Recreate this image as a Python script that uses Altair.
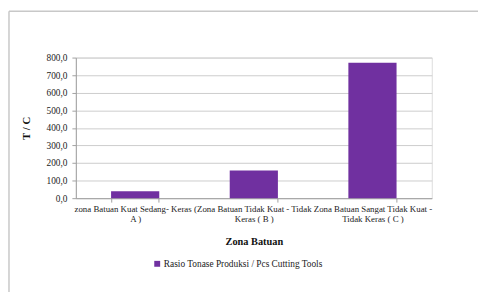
import altair as alt
import pandas as pd

categories = ["A", "B", "C"]
label_lines = [
    ["zona Batuan Kuat Sedang- Keras (", "A )"],
    ["Zona Batuan Tidak Kuat - Tidak", "Keras ( B )"],
    ["Zona Batuan Sangat Tidak Kuat -", "Tidak Keras ( C )"],
]
values = [40.0, 157.0, 770.0]
series_name = "Rasio Tonase Produksi / Pcs Cutting Tools"
y_ticks = [0, 100, 200, 300, 400, 500, 600, 700, 800]

df = pd.DataFrame({"cat": categories, "val": values, "series": [series_name] * 3})

FONT = "'Liberation Serif', 'Times New Roman', serif"
PURPLE = "#7030A0"

label_map = "{" + ",".join(
    f"'{c}': ['{l[0]}', '{l[1]}']" for c, l in zip(categories, label_lines)
) + "}"

bars = alt.Chart(df).mark_bar(size=49).encode(
    x=alt.X(
        "cat:N",
        sort=categories,
        scale=alt.Scale(paddingInner=0.6, paddingOuter=0.3),
        axis=alt.Axis(
            title="Zona Batuan",
            labelAngle=0,
            labelExpr=label_map + "[datum.value]",
            labelFont=FONT,
            labelFontSize=9,
            labelColor="#222222",
            labelLineHeight=10,
            labelPadding=3,
            labelLimit=200,
            titleFont=FONT,
            titleFontSize=10.5,
            titleFontWeight="bold",
            titleColor="#111111",
            titlePadding=13,
            tickBand="extent",
            tickSize=4,
            tickColor="#a0a0a0",
            domainColor="#a0a0a0",
            grid=False,
        ),
    ),
    y=alt.Y(
        "val:Q",
        scale=alt.Scale(domain=[0, 800], nice=False),
        axis=alt.Axis(
            title="T / C",
            values=y_ticks,
            labelExpr="replace(format(datum.value, '.1f'), '.', ',')",
            labelFont=FONT,
            labelFontSize=9.5,
            labelColor="#222222",
            labelPadding=5,
            titleFont=FONT,
            titleFontSize=11,
            titleFontWeight="bold",
            titleColor="#111111",
            titlePadding=15,
            tickSize=4,
            tickColor="#a0a0a0",
            domainColor="#a0a0a0",
            gridColor="#cccccc",
        ),
    ),
    color=alt.Color(
        "series:N",
        scale=alt.Scale(range=[PURPLE]),
        legend=alt.Legend(
            title=None,
            orient="none",
            legendX=78,
            legendY=205,
            symbolType="square",
            symbolSize=36,
            symbolStrokeWidth=0,
            labelFont=FONT,
            labelFontSize=9.5,
            labelColor="#222222",
            labelOffset=2,
            labelLimit=400,
        ),
    ),
)

frame_df = pd.DataFrame({"k": [0]})
frame_color = "#c8c8c8"
top = alt.Chart(frame_df).mark_rule(color=frame_color, strokeWidth=1.5, clip=False).encode(
    x=alt.value(-68), x2=alt.value(600), y=alt.value(-47)
)
left = alt.Chart(frame_df).mark_rule(color=frame_color, strokeWidth=1.5, clip=False).encode(
    x=alt.value(-68), y=alt.value(-47), y2=alt.value(242)
)
bottom = alt.Chart(frame_df).mark_rule(color=frame_color, strokeWidth=1.5, clip=False).encode(
    x=alt.value(-68), x2=alt.value(600), y=alt.value(242)
)

chart = alt.layer(top, left, bottom, bars).properties(
    width=362,
    height=143,
    background="white",
    autosize=alt.AutoSizeParams(type="none"),
    padding={"left": 69, "top": 48, "right": 47, "bottom": 93},
).configure_view(stroke=None).configure(font=FONT)

chart.save("out.html", embed_options={"renderer": "svg", "actions": False})
